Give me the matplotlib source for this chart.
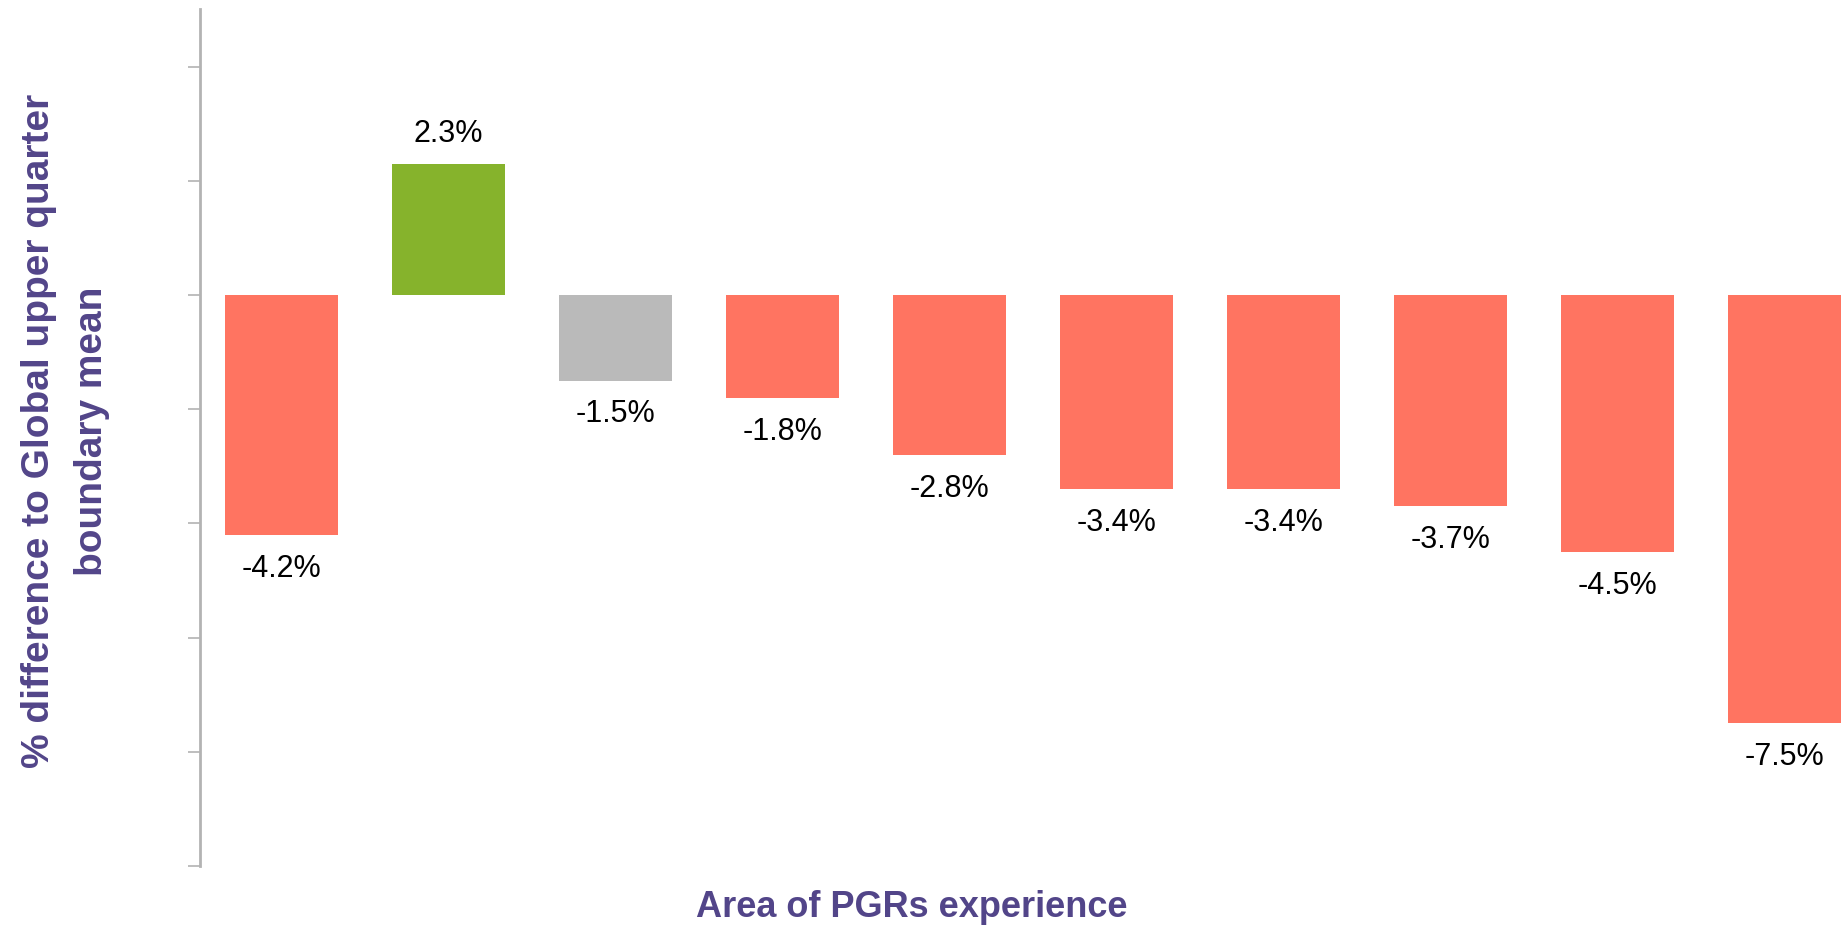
import numpy as np
import matplotlib
matplotlib.use('Agg')
import matplotlib.pyplot as plt

plt.rcParams['font.family'] = ['Liberation Sans', 'DejaVu Sans']

# values (% difference)
values = [-4.2, 2.3, -1.5, -1.8, -2.8, -3.4, -3.4, -3.7, -4.5, -7.5]
labels = ['-4.2%', '2.3%', '-1.5%', '-1.8%', '-2.8%', '-3.4%', '-3.4%', '-3.7%', '-4.5%', '-7.5%']
colors = ['#FF7461', '#86B32C', '#BABABA', '#FF7461', '#FF7461',
          '#FF7461', '#FF7461', '#FF7461', '#FF7461', '#FF7461']
yticks = [-10, -8, -6, -4, -2, 0, 2, 4]

purple = '#524589'
axis_grey = '#b3b3b3'

fig = plt.figure(figsize=(18.41, 9.25), dpi=100)
ax = fig.add_axes([0.1084, 0.0638, 0.8916, 0.926])

x = np.arange(len(values))
ax.bar(x, values, width=0.676, color=colors)

# value labels above / below each bar
for xi, v, lab in zip(x, values, labels):
    if v >= 0:
        ax.text(xi, v + 0.25, lab, ha='center', va='bottom', fontsize=22, color='black')
    else:
        ax.text(xi, v - 0.33, lab, ha='center', va='top', fontsize=22, color='black')

ax.set_xlim(-0.49, len(values) - 1 + 0.338)
ax.set_ylim(-10, 5)
ax.set_yticks(yticks)
ax.set_yticklabels([])
ax.set_xticks([])

for side in ['top', 'right', 'bottom']:
    ax.spines[side].set_visible(False)
ax.spines['left'].set_color(axis_grey)
ax.spines['left'].set_linewidth(2)
ax.tick_params(axis='y', direction='out', length=9, width=1.2, color=axis_grey)

fig.text(0.0354, 0.534, '% difference to Global upper quarter\nboundary mean',
         rotation=90, ha='center', va='center', fontsize=28, fontweight='bold',
         color=purple, linespacing=1.6)
fig.text(0.495, 0.019, 'Area of PGRs experience', ha='center', va='center',
         fontsize=26, fontweight='bold', color=purple)

fig.savefig('out.png', dpi=100)
